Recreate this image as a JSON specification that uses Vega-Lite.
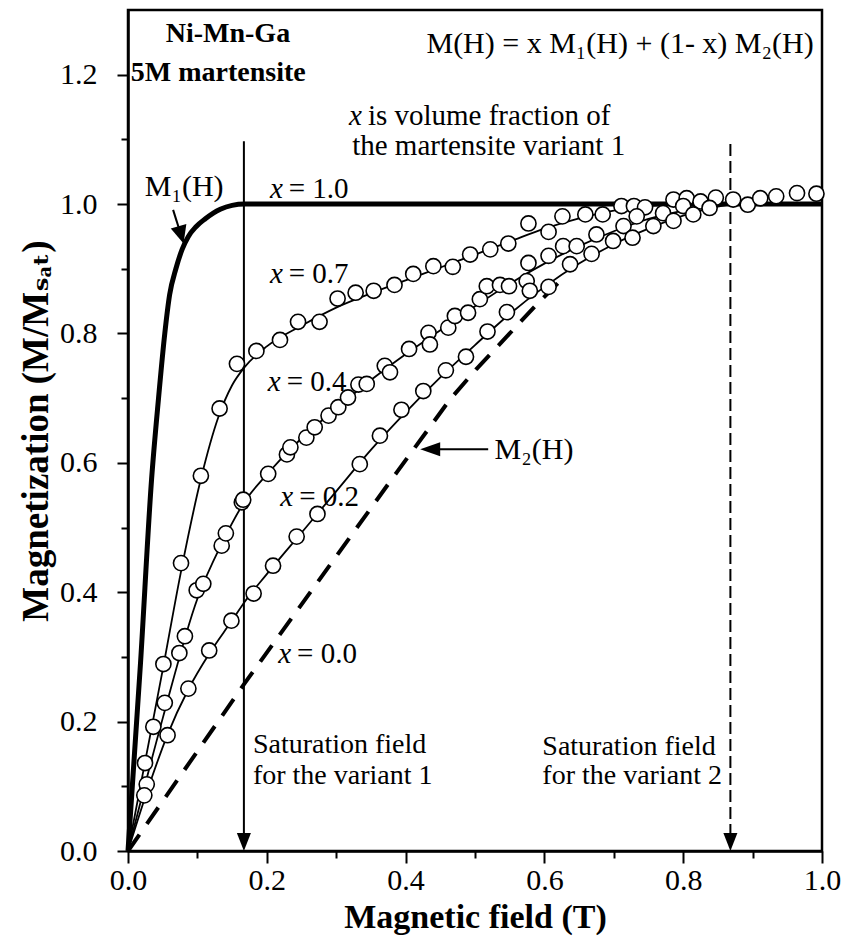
{
  "$schema": "https://vega.github.io/schema/vega-lite/v6.json",
  "width": 694,
  "height": 841,
  "autosize": {"type": "none"},
  "padding": {"left": 128, "top": 10, "right": 22, "bottom": 91},
  "background": "white",
  "config": {"view": {"stroke": "black", "strokeWidth": 2.5}},
  "datasets": {
    "m1": [
      {"x": 0, "y": 0}, {"x": 0.018, "y": 0.29}, {"x": 0.034, "y": 0.575}, {"x": 0.044, "y": 0.7},
      {"x": 0.053, "y": 0.8}, {"x": 0.06, "y": 0.86}, {"x": 0.069, "y": 0.9}, {"x": 0.078, "y": 0.93},
      {"x": 0.087, "y": 0.95}, {"x": 0.098, "y": 0.965}, {"x": 0.111, "y": 0.977}, {"x": 0.133, "y": 0.992},
      {"x": 0.15, "y": 0.998}, {"x": 0.168, "y": 1.0}, {"x": 1.0, "y": 1.0}
    ],
    "m2": [
      {"x": 0, "y": 0}, {"x": 0.168, "y": 0.259}, {"x": 0.387, "y": 0.585}, {"x": 0.464, "y": 0.698},
      {"x": 0.502, "y": 0.745}, {"x": 0.55, "y": 0.8}, {"x": 0.589, "y": 0.845}, {"x": 0.632, "y": 0.891}
    ],
    "fits": [
      {"s": "0.7", "x": 0, "y": 0}, {"s": "0.7", "x": 0.025, "y": 0.14}, {"s": "0.7", "x": 0.05, "y": 0.28},
      {"s": "0.7", "x": 0.076, "y": 0.43}, {"s": "0.7", "x": 0.105, "y": 0.575}, {"s": "0.7", "x": 0.13, "y": 0.67},
      {"s": "0.7", "x": 0.15, "y": 0.72}, {"s": "0.7", "x": 0.168, "y": 0.748}, {"s": "0.7", "x": 0.2, "y": 0.78},
      {"s": "0.7", "x": 0.25, "y": 0.812}, {"s": "0.7", "x": 0.3, "y": 0.84}, {"s": "0.7", "x": 0.35, "y": 0.862},
      {"s": "0.7", "x": 0.4, "y": 0.882}, {"s": "0.7", "x": 0.45, "y": 0.902}, {"s": "0.7", "x": 0.5, "y": 0.922},
      {"s": "0.7", "x": 0.55, "y": 0.942}, {"s": "0.7", "x": 0.6, "y": 0.962}, {"s": "0.7", "x": 0.65, "y": 0.978},
      {"s": "0.7", "x": 0.7, "y": 0.99}, {"s": "0.7", "x": 0.75, "y": 0.997}, {"s": "0.7", "x": 0.8, "y": 1.0},
      {"s": "0.4", "x": 0, "y": 0}, {"s": "0.4", "x": 0.05, "y": 0.205}, {"s": "0.4", "x": 0.1, "y": 0.39},
      {"s": "0.4", "x": 0.135, "y": 0.475}, {"s": "0.4", "x": 0.168, "y": 0.54}, {"s": "0.4", "x": 0.2, "y": 0.582},
      {"s": "0.4", "x": 0.25, "y": 0.638}, {"s": "0.4", "x": 0.3, "y": 0.684}, {"s": "0.4", "x": 0.35, "y": 0.728},
      {"s": "0.4", "x": 0.4, "y": 0.768}, {"s": "0.4", "x": 0.45, "y": 0.805}, {"s": "0.4", "x": 0.5, "y": 0.842},
      {"s": "0.4", "x": 0.55, "y": 0.877}, {"s": "0.4", "x": 0.6, "y": 0.908}, {"s": "0.4", "x": 0.65, "y": 0.935},
      {"s": "0.4", "x": 0.7, "y": 0.958}, {"s": "0.4", "x": 0.75, "y": 0.977}, {"s": "0.4", "x": 0.8, "y": 0.99},
      {"s": "0.4", "x": 0.85, "y": 0.998}, {"s": "0.4", "x": 0.87, "y": 1.0},
      {"s": "0.2", "x": 0, "y": 0}, {"s": "0.2", "x": 0.03, "y": 0.1}, {"s": "0.2", "x": 0.057, "y": 0.18},
      {"s": "0.2", "x": 0.087, "y": 0.25}, {"s": "0.2", "x": 0.117, "y": 0.305}, {"s": "0.2", "x": 0.149, "y": 0.355},
      {"s": "0.2", "x": 0.168, "y": 0.385}, {"s": "0.2", "x": 0.2, "y": 0.428}, {"s": "0.2", "x": 0.25, "y": 0.492},
      {"s": "0.2", "x": 0.3, "y": 0.556}, {"s": "0.2", "x": 0.35, "y": 0.62}, {"s": "0.2", "x": 0.4, "y": 0.678},
      {"s": "0.2", "x": 0.45, "y": 0.732}, {"s": "0.2", "x": 0.5, "y": 0.782}, {"s": "0.2", "x": 0.55, "y": 0.83},
      {"s": "0.2", "x": 0.6, "y": 0.872}, {"s": "0.2", "x": 0.65, "y": 0.908}, {"s": "0.2", "x": 0.7, "y": 0.938},
      {"s": "0.2", "x": 0.75, "y": 0.962}, {"s": "0.2", "x": 0.8, "y": 0.982}, {"s": "0.2", "x": 0.85, "y": 0.996},
      {"s": "0.2", "x": 0.87, "y": 1.0}
    ],
    "pts": [
      {"s": "0.7", "x": 0.0245, "y": 0.136}, {"s": "0.7", "x": 0.0365, "y": 0.192}, {"s": "0.7", "x": 0.051, "y": 0.289},
      {"s": "0.7", "x": 0.0764, "y": 0.445}, {"s": "0.7", "x": 0.105, "y": 0.58}, {"s": "0.7", "x": 0.132, "y": 0.684},
      {"s": "0.7", "x": 0.157, "y": 0.753}, {"s": "0.7", "x": 0.185, "y": 0.773}, {"s": "0.7", "x": 0.219, "y": 0.79},
      {"s": "0.7", "x": 0.245, "y": 0.818}, {"s": "0.7", "x": 0.276, "y": 0.818}, {"s": "0.7", "x": 0.302, "y": 0.854},
      {"s": "0.7", "x": 0.328, "y": 0.863}, {"s": "0.7", "x": 0.354, "y": 0.866}, {"s": "0.7", "x": 0.384, "y": 0.875},
      {"s": "0.7", "x": 0.411, "y": 0.892}, {"s": "0.7", "x": 0.44, "y": 0.904}, {"s": "0.7", "x": 0.468, "y": 0.903},
      {"s": "0.7", "x": 0.493, "y": 0.922}, {"s": "0.7", "x": 0.522, "y": 0.93}, {"s": "0.7", "x": 0.548, "y": 0.939},
      {"s": "0.7", "x": 0.577, "y": 0.97}, {"s": "0.7", "x": 0.606, "y": 0.957}, {"s": "0.7", "x": 0.626, "y": 0.981},
      {"s": "0.7", "x": 0.659, "y": 0.984}, {"s": "0.7", "x": 0.684, "y": 0.984}, {"s": "0.7", "x": 0.711, "y": 0.997},
      {"s": "0.7", "x": 0.729, "y": 0.997}, {"s": "0.7", "x": 0.745, "y": 0.995}, {"s": "0.7", "x": 0.786, "y": 1.007},
      {"s": "0.7", "x": 0.805, "y": 1.009}, {"s": "0.7", "x": 0.825, "y": 1.004}, {"s": "0.7", "x": 0.847, "y": 1.01},
      {"s": "0.7", "x": 0.872, "y": 1.007}, {"s": "0.7", "x": 0.893, "y": 0.999}, {"s": "0.7", "x": 0.911, "y": 1.009},
      {"s": "0.7", "x": 0.934, "y": 1.012}, {"s": "0.7", "x": 0.964, "y": 1.017}, {"s": "0.7", "x": 0.992, "y": 1.016},
      {"s": "0.4", "x": 0.027, "y": 0.103}, {"s": "0.4", "x": 0.053, "y": 0.229}, {"s": "0.4", "x": 0.074, "y": 0.306},
      {"s": "0.4", "x": 0.082, "y": 0.332}, {"s": "0.4", "x": 0.099, "y": 0.403}, {"s": "0.4", "x": 0.1085, "y": 0.413},
      {"s": "0.4", "x": 0.135, "y": 0.472}, {"s": "0.4", "x": 0.141, "y": 0.491}, {"s": "0.4", "x": 0.164, "y": 0.539},
      {"s": "0.4", "x": 0.166, "y": 0.543}, {"s": "0.4", "x": 0.202, "y": 0.583}, {"s": "0.4", "x": 0.229, "y": 0.613},
      {"s": "0.4", "x": 0.234, "y": 0.624}, {"s": "0.4", "x": 0.257, "y": 0.639}, {"s": "0.4", "x": 0.269, "y": 0.655},
      {"s": "0.4", "x": 0.289, "y": 0.673}, {"s": "0.4", "x": 0.303, "y": 0.686}, {"s": "0.4", "x": 0.317, "y": 0.701},
      {"s": "0.4", "x": 0.332, "y": 0.721}, {"s": "0.4", "x": 0.344, "y": 0.722}, {"s": "0.4", "x": 0.37, "y": 0.75},
      {"s": "0.4", "x": 0.3775, "y": 0.74}, {"s": "0.4", "x": 0.405, "y": 0.776}, {"s": "0.4", "x": 0.433, "y": 0.801},
      {"s": "0.4", "x": 0.435, "y": 0.783}, {"s": "0.4", "x": 0.4615, "y": 0.809}, {"s": "0.4", "x": 0.471, "y": 0.827},
      {"s": "0.4", "x": 0.49, "y": 0.832}, {"s": "0.4", "x": 0.507, "y": 0.853}, {"s": "0.4", "x": 0.517, "y": 0.873},
      {"s": "0.4", "x": 0.536, "y": 0.875}, {"s": "0.4", "x": 0.549, "y": 0.873}, {"s": "0.4", "x": 0.577, "y": 0.909},
      {"s": "0.4", "x": 0.606, "y": 0.92}, {"s": "0.4", "x": 0.627, "y": 0.935}, {"s": "0.4", "x": 0.6465, "y": 0.935},
      {"s": "0.4", "x": 0.675, "y": 0.953}, {"s": "0.4", "x": 0.714, "y": 0.966}, {"s": "0.4", "x": 0.733, "y": 0.981},
      {"s": "0.4", "x": 0.771, "y": 0.986}, {"s": "0.4", "x": 0.8, "y": 0.997},
      {"s": "0.2", "x": 0.0235, "y": 0.086}, {"s": "0.2", "x": 0.057, "y": 0.179}, {"s": "0.2", "x": 0.087, "y": 0.251},
      {"s": "0.2", "x": 0.117, "y": 0.31}, {"s": "0.2", "x": 0.149, "y": 0.356}, {"s": "0.2", "x": 0.181, "y": 0.398},
      {"s": "0.2", "x": 0.209, "y": 0.441}, {"s": "0.2", "x": 0.243, "y": 0.486}, {"s": "0.2", "x": 0.273, "y": 0.521},
      {"s": "0.2", "x": 0.334, "y": 0.598}, {"s": "0.2", "x": 0.363, "y": 0.642}, {"s": "0.2", "x": 0.394, "y": 0.682},
      {"s": "0.2", "x": 0.4255, "y": 0.711}, {"s": "0.2", "x": 0.458, "y": 0.743}, {"s": "0.2", "x": 0.487, "y": 0.764},
      {"s": "0.2", "x": 0.518, "y": 0.803}, {"s": "0.2", "x": 0.546, "y": 0.833}, {"s": "0.2", "x": 0.5745, "y": 0.881},
      {"s": "0.2", "x": 0.579, "y": 0.866}, {"s": "0.2", "x": 0.606, "y": 0.872}, {"s": "0.2", "x": 0.637, "y": 0.907},
      {"s": "0.2", "x": 0.668, "y": 0.923}, {"s": "0.2", "x": 0.699, "y": 0.943}, {"s": "0.2", "x": 0.727, "y": 0.948},
      {"s": "0.2", "x": 0.757, "y": 0.966}, {"s": "0.2", "x": 0.786, "y": 0.974}, {"s": "0.2", "x": 0.8145, "y": 0.984},
      {"s": "0.2", "x": 0.838, "y": 0.994}
    ],
    "vsolid": [{"x": 0.167, "y": 1.097}, {"x": 0.167, "y": 0.01}],
    "vdash": [{"x": 0.868, "y": 1.093}, {"x": 0.868, "y": 0.01}],
    "downheads": [{"x": 0.167, "y": 0}, {"x": 0.868, "y": 0}],
    "m1arrow": [{"x": 0.065, "y": 0.991}, {"x": 0.077, "y": 0.95}],
    "m1head": [{"x": 0.080, "y": 0.939}],
    "m2arrow": [{"x": 0.519, "y": 0.621}, {"x": 0.44, "y": 0.621}],
    "m2head": [{"x": 0.421, "y": 0.621}],
    "boldc": [
      {"x": 0.144, "y": 1.25, "label": "Ni-Mn-Ga"},
      {"x": 0.13, "y": 1.19, "label": "5M martensite"}
    ],
    "regc": [
      {"x": 0.709, "y": 1.233, "label": "M(H) = x M₁(H) + (1- x) M₂(H)"},
      {"x": 0.081, "y": 1.012, "label": "M₁(H)"},
      {"x": 0.585, "y": 0.606, "label": "M₂(H)"}
    ],
    "regl": [
      {"x": 0.323, "y": 1.076, "label": "the martensite variant 1"}
    ],
    "satl": [
      {"x": 0.18, "y": 0.152, "label": "Saturation field"},
      {"x": 0.18, "y": 0.104, "label": "for the variant 1"},
      {"x": 0.597, "y": 0.148, "label": "Saturation field"},
      {"x": 0.597, "y": 0.104, "label": "for the variant 2"}
    ],
    "xlab": [
      {"x": 0.337, "y": 1.122, "label": "is volume fraction of"},
      {"x": 0.223, "y": 1.009, "label": "= 1.0"},
      {"x": 0.223, "y": 0.878, "label": "= 0.7"},
      {"x": 0.22, "y": 0.711, "label": "= 0.4"},
      {"x": 0.238, "y": 0.534, "label": "= 0.2"},
      {"x": 0.235, "y": 0.29, "label": "= 0.0"}
    ]
  },
  "encoding": {
    "x": {
      "field": "x", "type": "quantitative",
      "scale": {"domain": [0, 1], "nice": false, "zero": false},
      "axis": {
        "values": [0, 0.1, 0.2, 0.3, 0.4, 0.5, 0.6, 0.7, 0.8, 0.9, 1.0],
        "labelExpr": "round(datum.value*10) % 2 == 0 ? format(datum.value, '.1f') : ''",
        "tickSize": {"condition": {"test": "round(datum.value*10) % 2 == 0", "value": 12}, "value": 7},
        "tickWidth": 2, "tickColor": "black", "domainColor": "black", "domainWidth": 2.5,
        "grid": false, "labelFont": "Liberation Serif", "labelFontSize": 30, "labelColor": "black",
        "labelPadding": 2, "labelFlush": false, "labelOverlap": false,
        "title": "Magnetic field (T)", "titleFont": "Liberation Serif", "titleFontSize": 34,
        "titleFontWeight": "bold", "titleColor": "black", "titlePadding": 5
      }
    },
    "y": {
      "field": "y", "type": "quantitative",
      "scale": {"domain": [0, 1.3], "nice": false, "zero": false},
      "axis": {
        "values": [0, 0.1, 0.2, 0.3, 0.4, 0.5, 0.6, 0.7, 0.8, 0.9, 1.0, 1.1, 1.2],
        "labelExpr": "round(datum.value*10) % 2 == 0 ? format(datum.value, '.1f') : ''",
        "tickSize": {"condition": {"test": "round(datum.value*10) % 2 == 0", "value": 11}, "value": 7},
        "tickWidth": 2, "tickColor": "black", "domainColor": "black", "domainWidth": 2.5,
        "grid": false, "labelFont": "Liberation Serif", "labelFontSize": 30, "labelColor": "black",
        "labelPadding": 20, "labelFlush": false, "labelOverlap": false,
        "title": "Magnetization (M/Mₛₐₜ)", "titleFont": "Liberation Serif, DejaVu Serif, DejaVu Sans", "titleFontSize": 37,
        "titleFontWeight": "bold", "titleColor": "black", "titlePadding": 4
      }
    }
  },
  "layer": [
    {
      "data": {"name": "m2"},
      "mark": {"type": "line", "color": "black", "strokeWidth": 4, "strokeDash": [20, 13]}
    },
    {
      "data": {"name": "fits"},
      "mark": {"type": "line", "color": "black", "strokeWidth": 1.8, "interpolate": "monotone"},
      "encoding": {"detail": {"field": "s"}}
    },
    {
      "data": {"name": "m1"},
      "mark": {"type": "line", "color": "black", "strokeWidth": 5, "interpolate": "monotone"}
    },
    {
      "data": {"name": "vsolid"},
      "mark": {"type": "line", "color": "black", "strokeWidth": 2}
    },
    {
      "data": {"name": "vdash"},
      "mark": {"type": "line", "color": "black", "strokeWidth": 2, "strokeDash": [12, 5]}
    },
    {
      "data": {"name": "downheads"},
      "mark": {"type": "point", "shape": "M-0.39,-1L0.39,-1L0,0Z", "size": 1296, "filled": true, "color": "black", "opacity": 1}
    },
    {
      "data": {"name": "m1arrow"},
      "mark": {"type": "line", "color": "black", "strokeWidth": 2}
    },
    {
      "data": {"name": "m1head"},
      "mark": {"type": "point", "shape": "M-0.45,-1L0.45,-1L0,0Z", "size": 1296, "angle": -16, "filled": true, "color": "black", "opacity": 1}
    },
    {
      "data": {"name": "m2arrow"},
      "mark": {"type": "line", "color": "black", "strokeWidth": 2}
    },
    {
      "data": {"name": "m2head"},
      "mark": {"type": "point", "shape": "M0,0L1,-0.35L1,0.35Z", "size": 1600, "filled": true, "color": "black", "opacity": 1}
    },
    {
      "data": {"name": "pts"},
      "mark": {"type": "point", "shape": "circle", "size": 230, "filled": true, "fill": "white", "stroke": "black", "strokeWidth": 1.6, "opacity": 1}
    },
    {
      "data": {"name": "boldc"},
      "mark": {"type": "text", "font": "Liberation Serif", "fontSize": 28, "fontWeight": "bold", "color": "black", "align": "center", "baseline": "alphabetic"},
      "encoding": {"text": {"field": "label"}}
    },
    {
      "data": {"name": "regc"},
      "mark": {"type": "text", "font": "Liberation Serif, DejaVu Serif", "fontSize": 30, "color": "black", "align": "center", "baseline": "alphabetic"},
      "encoding": {"text": {"field": "label"}}
    },
    {
      "data": {"name": "regl"},
      "mark": {"type": "text", "font": "Liberation Serif", "fontSize": 29, "color": "black", "align": "left", "baseline": "alphabetic"},
      "encoding": {"text": {"field": "label"}}
    },
    {
      "data": {"name": "satl"},
      "mark": {"type": "text", "font": "Liberation Serif", "fontSize": 28, "color": "black", "align": "left", "baseline": "alphabetic"},
      "encoding": {"text": {"field": "label"}}
    },
    {
      "data": {"name": "xlab"},
      "mark": {"type": "text", "font": "Liberation Serif", "fontSize": 29, "fontStyle": "italic", "color": "black", "align": "right", "baseline": "alphabetic", "text": "x"}
    },
    {
      "data": {"name": "xlab"},
      "mark": {"type": "text", "font": "Liberation Serif", "fontSize": 29, "color": "black", "align": "left", "baseline": "alphabetic", "dx": 6},
      "encoding": {"text": {"field": "label"}}
    }
  ]
}
